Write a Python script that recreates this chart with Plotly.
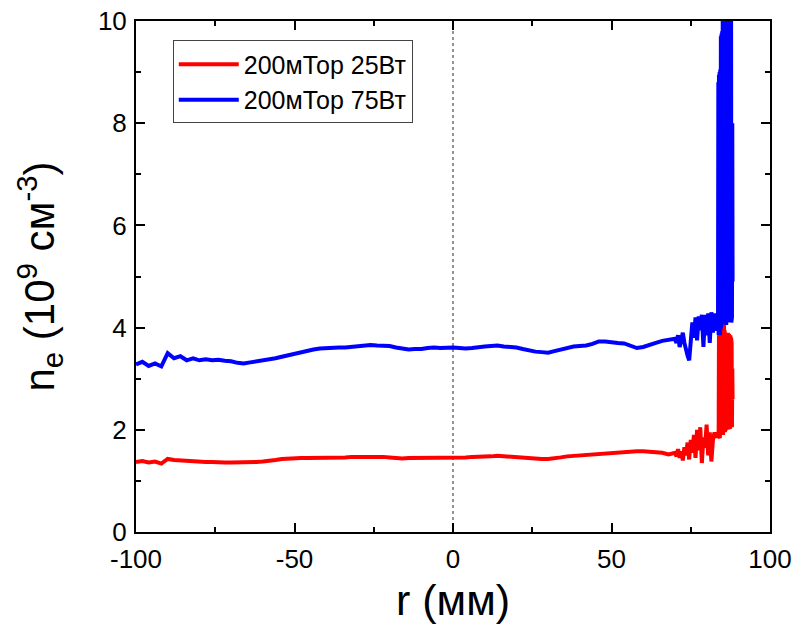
import numpy as np
import plotly.graph_objects as go

# Radial grid: coarse over the flat profile, finer near the wall, finest in the burst
r_flat = np.arange(-100, 71, 2)            # -100 ... 70 mm
r_edge = np.arange(705, 831, 5) / 10.0     # 70.5 ... 83.0 mm
r_burst = np.arange(836, 883) / 10.0       # 83.6 ... 88.2 mm

# 200 mTorr, 75 W
ne_75_flat = [
    3.28, 3.33, 3.25, 3.30, 3.24, 3.50, 3.40, 3.44, 3.36, 3.40,
    3.36, 3.38, 3.36, 3.37, 3.35, 3.34, 3.31, 3.30, 3.32, 3.34,
    3.36, 3.37, 3.40, 3.43, 3.46, 3.49, 3.52, 3.55, 3.57, 3.59,
    3.60, 3.60, 3.61, 3.61, 3.62, 3.64, 3.65, 3.66, 3.65, 3.65,
    3.64, 3.61, 3.58, 3.57, 3.58, 3.58, 3.60, 3.61, 3.60, 3.61,
    3.61, 3.60, 3.59, 3.60, 3.62, 3.63, 3.64, 3.65, 3.63, 3.62,
    3.61, 3.58, 3.55, 3.53, 3.52, 3.51, 3.54, 3.57, 3.61, 3.63,
    3.64, 3.65, 3.68, 3.73, 3.73, 3.71, 3.70, 3.69, 3.65, 3.60,
    3.62, 3.67, 3.70, 3.74, 3.76, 3.78,
]
ne_75_edge = [
    3.70, 3.85, 3.62, 3.80, 3.90, 3.70, 3.55, 3.45, 3.36, 3.70,
    4.10, 3.80, 4.20, 3.75, 4.22, 3.95, 4.25, 3.62, 4.25, 3.85,
    4.28, 3.70, 4.30, 3.90, 4.28, 3.95,
]
ne_75_burst = [
    4.00, 8.80, 3.85, 8.95, 3.90, 9.00, 3.85, 9.05, 3.95, 9.70,
    4.00, 9.75, 4.05, 9.80, 4.10, 11.5, 4.15, 12.0, 4.10, 12.5,
    4.20, 12.0, 4.10, 12.5, 4.15, 12.0, 4.05, 12.5, 4.20, 12.0,
    4.10, 12.5, 4.15, 12.0, 4.10, 12.5, 4.20, 12.0, 4.10, 12.5,
    4.15, 12.0, 4.10, 11.5, 4.20, 8.00, 4.90,
]

# 200 mTorr, 25 W
ne_25_flat = [
    1.37, 1.39, 1.36, 1.38, 1.34, 1.43, 1.41, 1.40, 1.39, 1.39,
    1.38, 1.37, 1.37, 1.36, 1.36, 1.36, 1.36, 1.37, 1.37, 1.37,
    1.38, 1.39, 1.41, 1.43, 1.44, 1.44, 1.45, 1.45, 1.45, 1.46,
    1.45, 1.46, 1.46, 1.46, 1.47, 1.47, 1.48, 1.48, 1.48, 1.47,
    1.46, 1.45, 1.44, 1.45, 1.45, 1.45, 1.46, 1.46, 1.46, 1.46,
    1.46, 1.46, 1.46, 1.47, 1.47, 1.48, 1.48, 1.49, 1.48, 1.47,
    1.46, 1.45, 1.44, 1.43, 1.43, 1.43, 1.44, 1.46, 1.48, 1.49,
    1.50, 1.51, 1.52, 1.53, 1.54, 1.55, 1.56, 1.56, 1.57, 1.58,
    1.58, 1.57, 1.56, 1.55, 1.52, 1.55,
]
ne_25_edge = [
    1.48, 1.62, 1.45, 1.58, 1.40, 1.66, 1.50, 1.75, 1.42, 1.80,
    1.55, 1.90, 1.45, 2.00, 1.60, 2.05, 1.35, 1.85, 1.65, 2.10,
    1.50, 1.95, 1.38, 1.80, 1.95, 1.85,
]
ne_25_burst = [
    1.95, 3.78, 1.90, 3.85, 1.86, 3.88, 1.84, 3.90, 1.90, 3.92,
    2.00, 4.00, 1.95, 4.10, 1.92, 4.14, 1.90, 4.12, 1.95, 4.05,
    2.00, 3.95, 1.95, 3.90, 1.98, 3.88, 2.00, 3.90, 2.02, 3.88,
    2.05, 3.90, 2.00, 3.86, 2.03, 3.85, 2.05, 3.85, 2.02, 3.85,
    2.05, 3.80, 2.08, 3.70, 2.05, 3.20, 2.60,
]

x_ticks = [-100, -50, 0, 50, 100]
x_ticktext = ["-100", "-50", "0", "50", "100"]
y_ticks = [0, 2, 4, 6, 8, 10]

r_all = np.concatenate([r_flat, r_edge, r_burst])
ne_25 = ne_25_flat + ne_25_edge + ne_25_burst
ne_75 = ne_75_flat + ne_75_edge + ne_75_burst

FONT = "Liberation Sans, Arial, sans-serif"

fig = go.Figure()
fig.add_trace(go.Scatter(x=r_all, y=ne_25, mode="lines", name="200мТор 25Вт",
                         line=dict(color="#ff0000", width=4)))
fig.add_trace(go.Scatter(x=r_all, y=ne_75, mode="lines", name="200мТор 75Вт",
                         line=dict(color="#0000ff", width=4)))

# dotted centre line at r = 0
fig.add_shape(type="line", xref="x", yref="y", x0=0, x1=0, y0=0, y1=10,
              line=dict(color="#707070", width=1.5, dash="dot"), layer="below")

axis_common = dict(
    showgrid=False, zeroline=False, showline=True, linecolor="black", linewidth=2,
    mirror="allticks", ticks="inside", ticklen=9, tickwidth=2, tickcolor="black",
    tickfont=dict(family=FONT, size=26, color="black"), automargin=False,
)

fig.update_xaxes(range=[-100, 100], tickvals=x_ticks, ticktext=x_ticktext,
                 ticklabelstandoff=3,
                 minor=dict(dtick=25, tick0=0, ticks="inside", ticklen=5, tickwidth=1.5,
                            tickcolor="black", showgrid=False),
                 title=dict(text="r (мм)", font=dict(family=FONT, size=43, color="black"),
                            standoff=12),
                 **axis_common)
fig.update_yaxes(range=[0, 10], tickvals=y_ticks, ticklabelstandoff=2,
                 minor=dict(dtick=1, tick0=0, ticks="inside", ticklen=5, tickwidth=1.5,
                            tickcolor="black", showgrid=False),
                 title=dict(text="n<sub>e</sub> (10<sup>9</sup> см<sup>-3</sup>)",
                            font=dict(family=FONT, size=42, color="black"), standoff=30),
                 **axis_common)

fig.update_layout(
    width=801, height=625,
    margin=dict(l=136, r=31, t=21, b=93, autoexpand=False),
    paper_bgcolor="white", plot_bgcolor="white",
    font=dict(family=FONT, color="black"),
    legend=dict(x=0.058, y=0.962, xanchor="left", yanchor="top",
                bgcolor="white", bordercolor="#444", borderwidth=1,
                font=dict(family=FONT, size=25, color="black"),
                itemwidth=60, tracegroupgap=0),
    showlegend=True,
)

fig.write_html("out.html")
